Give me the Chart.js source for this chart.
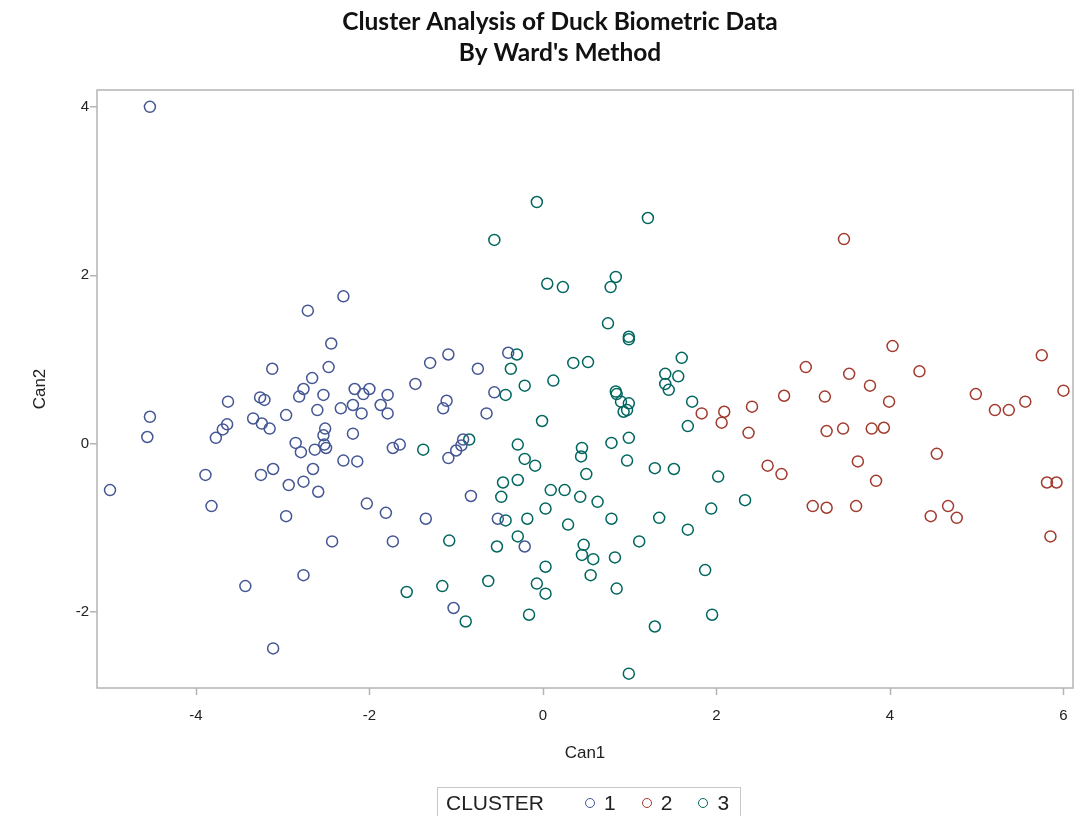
<!DOCTYPE html>
<html>
<head>
<meta charset="utf-8">
<script src="https://cdn.jsdelivr.net/npm/chart.js@4"></script>
<style>
  html, body { margin: 0; padding: 0; background: #fff; }
  #wrap { position: relative; width: 1075px; height: 816px; }
  #legend {
    position: absolute; left: 437px; top: 787px; width: 304px; height: 32px;
    border: 1px solid #c8c8c8; box-sizing: border-box;
    font-family: "Liberation Sans", Arial, sans-serif; font-size: 21px; color: #222;
    display: flex; align-items: center; padding-left: 8px;
  }
  #legend .dot {
    display: inline-block; width: 8px; height: 8px; border-radius: 50%;
    border: 1.3px solid; margin: 0 9px 0 0;
  }
  #legend .item { display: inline-flex; align-items: center; margin-left: 26px; }
  #legend .item.first { margin-left: 41px; }
</style>
</head>
<body>
<div id="wrap">
  <canvas id="chart" width="1075" height="816"></canvas>
  <div id="legend"></div>
</div>
<script>
// canonical variables, one pair of arrays per cluster
const clusterNames = ["1", "2", "3"];
const clusterColors = ["#445694", "#A23A2E", "#01665E"];

const cluster1Can1 = [-4.53, -2.30, -2.71, -2.44, -3.12, -2.47, -2.66, -2.76, -2.81, -3.63,
  -3.26, -3.21, -2.53, -2.17, -2.00, -2.07, -1.79, -1.47, -4.53, -4.56,
  -3.64, -3.69, -3.77, -3.34, -3.24, -3.15, -2.96, -2.60, -2.33, -2.19,
  -2.09, -1.87, -1.79, -2.51, -2.53, -2.52, -2.50, -2.19, -2.85, -2.79,
  -2.63, -1.73, -1.65, -4.99, -3.89, -3.82, -3.25, -3.11, -2.65, -2.93,
  -2.76, -2.59, -2.30, -2.14, -2.03, -1.81, -2.96, -2.43, -1.73, -3.43,
  -2.76, -3.11, -1.09, -1.30, -0.75, -0.40, -0.56, -1.11, -1.15, -0.65,
  -0.92, -0.94, -1.00, -1.09, -0.83, -1.35, -0.52, -0.21, -1.03];
const cluster1Can2 = [4.00, 1.75, 1.58, 1.19, 0.89, 0.91, 0.78, 0.65, 0.56, 0.50,
  0.55, 0.52, 0.58, 0.65, 0.65, 0.59, 0.58, 0.71, 0.32, 0.08,
  0.23, 0.17, 0.07, 0.30, 0.24, 0.18, 0.34, 0.40, 0.42, 0.46,
  0.36, 0.46, 0.36, 0.18, 0.10, -0.01, -0.05, 0.12, 0.01, -0.10,
  -0.07, -0.05, -0.01, -0.55, -0.37, -0.74, -0.37, -0.30, -0.30, -0.49,
  -0.45, -0.57, -0.20, -0.21, -0.71, -0.82, -0.86, -1.16, -1.16, -1.69,
  -1.56, -2.43, 1.06, 0.96, 0.89, 1.08, 0.61, 0.51, 0.42, 0.36,
  0.05, -0.02, -0.08, -0.17, -0.62, -0.89, -0.89, -1.22, -1.95];

const cluster2Can1 = [1.83, 2.09, 2.06, 3.47, 4.03, 5.75, 3.03, 3.53, 4.34, 3.77,
  2.78, 3.25, 3.99, 2.41, 4.99, 6.00, 5.21, 5.37, 5.56, 2.37,
  3.27, 3.46, 3.79, 3.93, 4.54, 2.59, 2.75, 3.63, 3.84, 3.11,
  3.27, 3.61, 4.47, 4.67, 4.77, 5.81, 5.92, 5.85];
const cluster2Can2 = [0.36, 0.38, 0.25, 2.43, 1.16, 1.05, 0.91, 0.83, 0.86, 0.69,
  0.57, 0.56, 0.50, 0.44, 0.59, 0.63, 0.40, 0.40, 0.50, 0.13,
  0.15, 0.18, 0.18, 0.19, -0.12, -0.26, -0.36, -0.21, -0.44, -0.74,
  -0.76, -0.74, -0.86, -0.74, -0.88, -0.46, -0.46, -1.10];

const cluster3Can1 = [-0.07, 1.21, -0.56, 0.05, 0.23, 0.84, 0.78, 0.75, 0.99, 0.99,
  -0.30, -0.37, 0.35, 0.52, -0.43, -0.21, 0.12, -0.01, 1.60, 1.41,
  1.56, 1.41, 1.45, 0.84, 0.85, 0.90, 0.99, 0.97, 0.93, 1.72,
  1.67, -1.38, -0.85, -0.29, -0.21, -0.09, 0.45, 0.44, 0.79, 0.99,
  0.97, 1.29, 1.51, 2.02, 0.50, -0.46, -0.29, -0.48, 0.09, 0.25,
  0.43, 0.63, 0.03, 0.79, 1.34, 1.94, 2.33, -0.43, -0.18, 0.29,
  1.67, -1.08, -0.53, -0.29, 0.47, 0.45, 0.58, 0.83, 1.11, 0.03,
  0.55, -1.57, -1.16, -0.63, -0.07, 0.03, 0.85, 1.87, -0.89, -0.16,
  1.29, 1.95, 0.99];
const cluster3Can2 = [2.87, 2.68, 2.42, 1.90, 1.86, 1.98, 1.86, 1.43, 1.27, 1.24,
  1.06, 0.89, 0.96, 0.97, 0.58, 0.69, 0.75, 0.27, 1.02, 0.83,
  0.80, 0.71, 0.64, 0.62, 0.59, 0.50, 0.48, 0.40, 0.38, 0.50,
  0.21, -0.07, 0.05, -0.01, -0.18, -0.26, -0.05, -0.15, 0.01, 0.07,
  -0.20, -0.29, -0.30, -0.39, -0.36, -0.46, -0.43, -0.63, -0.55, -0.55,
  -0.63, -0.69, -0.77, -0.89, -0.88, -0.77, -0.67, -0.91, -0.89, -0.96,
  -1.02, -1.15, -1.22, -1.10, -1.20, -1.32, -1.37, -1.35, -1.16, -1.46,
  -1.56, -1.76, -1.69, -1.63, -1.66, -1.78, -1.72, -1.50, -2.11, -2.03,
  -2.17, -2.03, -2.73];

const xTicks = [-4, -2, 0, 2, 4, 6];
const yTicks = [-2, 0, 2, 4];
const titleLines = ['Cluster Analysis of Duck Biometric Data', "By Ward's Method"];

const can1 = [cluster1Can1, cluster2Can1, cluster3Can1];
const can2 = [cluster1Can2, cluster2Can2, cluster3Can2];

const datasets = clusterNames.map((name, i) => ({
  label: name,
  data: can1[i].map((x, j) => ({ x: x, y: can2[i][j] })),
  borderColor: clusterColors[i],
  backgroundColor: 'rgba(0,0,0,0)',
  pointStyle: 'circle',
  pointRadius: 5.5,
  pointHoverRadius: 5.5,
  pointBorderWidth: 1.5
}));

const axisGrey = '#b4b4b4';

// frame around the plot area, short x tick marks, and the two title lines
const frame = {
  id: 'frame',
  afterDatasetsDraw(chart) {
    const { ctx, chartArea: a, scales } = chart;
    ctx.save();
    ctx.strokeStyle = axisGrey;
    ctx.lineWidth = 1.5;
    ctx.strokeRect(a.left, a.top, a.right - a.left, a.bottom - a.top);
    ctx.beginPath();
    xTicks.forEach(v => {
      const px = Math.round(scales.x.getPixelForValue(v)) + 0.5;
      ctx.moveTo(px, a.bottom);
      ctx.lineTo(px, a.bottom + 7);
    });
    ctx.stroke();
    ctx.fillStyle = '#111';
    ctx.font = "bold 24.5px Lato, 'Open Sans', sans-serif";
    ctx.textAlign = 'center';
    ctx.textBaseline = 'middle';
    ctx.fillText(titleLines[0], 560, 22);
    ctx.fillText(titleLines[1], 560, 53);
    ctx.restore();
  }
};

const tickFont = { family: "'Liberation Sans', Arial, sans-serif", size: 15 };
const titleFont = { family: "'Liberation Sans', Arial, sans-serif", size: 17 };

new Chart(document.getElementById('chart'), {
  type: 'scatter',
  data: { datasets: datasets },
  plugins: [frame],
  options: {
    responsive: false,
    animation: false,
    layout: { autoPadding: false, padding: { left: 0, right: 2, top: 90, bottom: 28 } },
    plugins: {
      legend: { display: false },
      tooltip: { enabled: false },
      title: { display: false }
    },
    scales: {
      x: {
        type: 'linear',
        min: -5.14,
        max: 6.11,
        afterBuildTicks: s => { s.ticks = xTicks.map(v => ({ value: v })); },
        afterFit: s => { s.height = 100; },
        ticks: { color: '#222', font: tickFont, padding: 3, includeBounds: false },
        // invisible long ticks only push the labels down; the visible marks come from the plugin
        grid: { display: true, drawOnChartArea: false, drawTicks: true, tickLength: 16, color: 'rgba(0,0,0,0)' },
        border: { display: false },
        title: { display: true, text: 'Can1', color: '#222', font: titleFont, padding: { top: 4, bottom: 24 } }
      },
      y: {
        type: 'linear',
        min: -2.90,
        max: 4.20,
        afterBuildTicks: s => { s.ticks = yTicks.map(v => ({ value: v })); },
        afterFit: s => { s.width = 97; },
        ticks: { color: '#222', font: tickFont, padding: 1, includeBounds: false },
        grid: { display: true, drawOnChartArea: false, drawTicks: true, tickLength: 7, color: axisGrey, lineWidth: 1.5 },
        border: { display: false },
        title: { display: true, text: 'Can2', color: '#222', font: titleFont, padding: { top: 30, bottom: 4 } }
      }
    }
  }
});

// legend row under the chart
const legend = document.getElementById('legend');
const head = document.createElement('span');
head.textContent = 'CLUSTER';
legend.appendChild(head);
clusterNames.forEach((name, i) => {
  const item = document.createElement('span');
  item.className = i === 0 ? 'item first' : 'item';
  const dot = document.createElement('span');
  dot.className = 'dot';
  dot.style.borderColor = clusterColors[i];
  item.appendChild(dot);
  item.appendChild(document.createTextNode(name));
  legend.appendChild(item);
});
</script>
</body>
</html>
